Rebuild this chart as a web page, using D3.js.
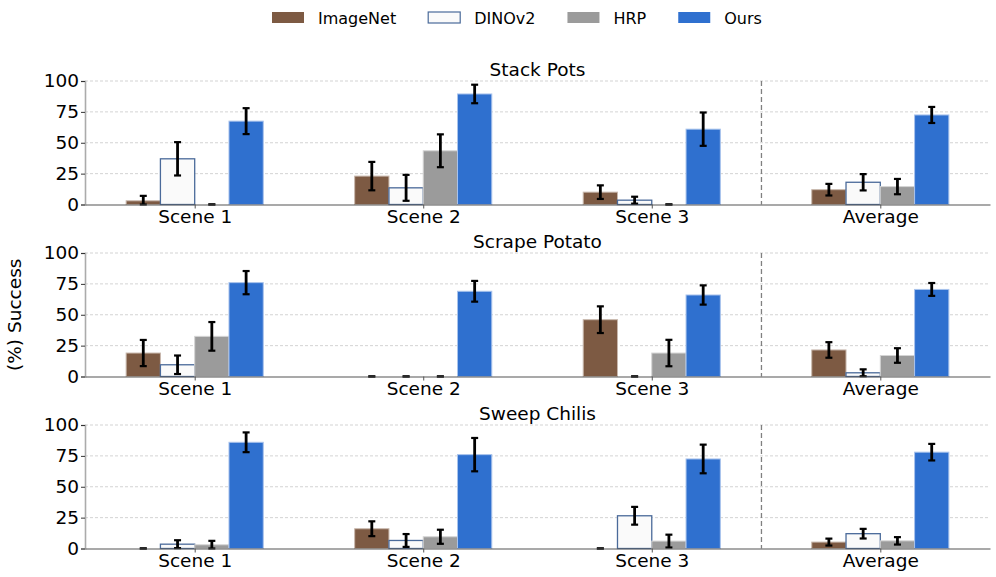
<!DOCTYPE html>
<html lang="en">
<head>
  <meta charset="UTF-8">
  <title>Success per scene</title>
  <script src="https://d3js.org/d3.v7.min.js"></script>
  <style>
    body { margin: 0; background: #fff; }
    text { font-family: "DejaVu Sans", sans-serif; fill: #000; }
  </style>
</head>
<body>
  <div id="viz"></div>

  <script>
    const methods = ['ImageNet', 'DINOv2', 'HRP', 'Ours'];
    const scenes = ['Scene 1', 'Scene 2', 'Scene 3', 'Average'];
    const tasks = ['Stack Pots', 'Scrape Potato', 'Sweep Chilis'];
    const yTicks = [0, 25, 50, 75, 100];

    // rows = methods, columns = scenes
    const stackPotsMean = [[3, 23, 10, 12], [37, 13.5, 3.5, 18], [0, 43.5, 0, 14.5], [67.5, 89.5, 61, 72.5]];
    const stackPotsErr = [[4, 11.5, 5.5, 4.7], [13.5, 10.5, 2.8, 6.6], [0, 13.3, 0, 6.2], [10.5, 7.5, 13.5, 6.5]];
    const scrapePotatoMean = [[19, 0, 46, 21.5], [9.5, 0, 0, 3], [32.5, 0, 19, 17], [76, 69, 66, 70.5]];
    const scrapePotatoErr = [[10.6, 0, 10.8, 6.3], [7.5, 0, 0, 2.8], [11.6, 0, 10.7, 5.9], [9.4, 8.4, 7.8, 5.2]];
    const sweepChilisMean = [[0, 16, 0, 5.2], [3.5, 6.5, 26.5, 12], [3, 9.5, 6, 6.2], [86, 76, 72.5, 78]];
    const sweepChilisErr = [[0, 6, 0, 2.8], [3.2, 5.2, 7.2, 3.9], [3.2, 5.7, 5.2, 3], [8, 13.5, 11.6, 6.7]];

    const means = [stackPotsMean, scrapePotatoMean, sweepChilisMean];
    const errs = [stackPotsErr, scrapePotatoErr, sweepChilisErr];

    const fills = ['#7d5a43', '#fafafa', '#9b9b9b', '#2f70cf'];
    const strokes = ['#c8b8ad', '#4a6a9a', '#d4d4d4', '#a9c3ec'];

    const width = 996, height = 577;
    const left = 85, right = 990;
    const panelH = 123.5, panelTop = 81, panelStep = 172;
    const barW = 0.15;
    const fs = '18.5px';

    const svg = d3.select('#viz')
      .append('svg')
        .attr('width', width)
        .attr('height', height);

    // category index -> pixel, bars span -0.3..3.3 plus matplotlib-like margin
    const x = d3.scaleLinear().domain([-0.48, 3.48]).range([left, right]);

    tasks.forEach((task, t) => {
      const top = panelTop + t * panelStep;
      const y = d3.scaleLinear().domain([0, 100]).range([top + panelH, top]);
      const g = svg.append('g');

      // grid
      g.selectAll('line.grid')
        .data(yTicks.filter(d => d > 0))
        .enter()
        .append('line')
          .attr('x1', left).attr('x2', right)
          .attr('y1', d => y(d)).attr('y2', d => y(d))
          .style('stroke', '#c8c8c8')
          .style('stroke-width', 0.8)
          .style('stroke-dasharray', '3,2');

      // separator before Average
      g.append('line')
        .attr('x1', x(2.48)).attr('x2', x(2.48))
        .attr('y1', y(100)).attr('y2', y(0))
        .style('stroke', '#808080')
        .style('stroke-width', 1.3)
        .style('stroke-dasharray', '5,3');

      // bars
      methods.forEach((m, i) => {
        const off = (i - 1.5) * barW;
        g.selectAll('rect.m' + i)
          .data(scenes.map((s, j) => ({ j: j, v: means[t][i][j], e: errs[t][i][j] })))
          .enter()
          .append('rect')
            .attr('x', d => x(d.j + off - barW / 2))
            .attr('width', x(barW) - x(0))
            .attr('y', d => y(d.v))
            .attr('height', d => y(0) - y(d.v))
            .style('fill', fills[i])
            .style('stroke', d => d.v > 0 ? strokes[i] : 'none')
            .style('stroke-width', i === 1 ? 1.3 : 1);
      });

      // error bars
      methods.forEach((m, i) => {
        const off = (i - 1.5) * barW;
        const data = scenes.map((s, j) => ({ j: j, v: means[t][i][j], e: errs[t][i][j] }));
        const eg = g.append('g').style('stroke', '#000');
        eg.selectAll('line.v')
          .data(data)
          .enter()
          .append('line')
            .attr('x1', d => x(d.j + off)).attr('x2', d => x(d.j + off))
            .attr('y1', d => y(Math.max(0, d.v - d.e))).attr('y2', d => y(d.v + d.e))
            .style('stroke-width', 2.8);
        ['lo', 'hi'].forEach(k => {
          eg.selectAll('line.' + k)
            .data(data)
            .enter()
            .append('line')
              .attr('x1', d => x(d.j + off) - 3.5).attr('x2', d => x(d.j + off) + 3.5)
              .attr('y1', d => y(k === 'lo' ? Math.max(0, d.v - d.e) : d.v + d.e))
              .attr('y2', d => y(k === 'lo' ? Math.max(0, d.v - d.e) : d.v + d.e))
              .style('stroke-width', 2.2);
        });
      });

      // y axis
      const yAxis = g.append('g')
        .attr('transform', `translate(${left},0)`)
        .call(d3.axisLeft(y).tickValues(yTicks).tickSize(4).tickPadding(2));
      yAxis.select('.domain').style('stroke', '#ababab').style('stroke-width', 1.6);
      yAxis.selectAll('.tick line').style('stroke', '#333');
      yAxis.selectAll('.tick text')
        .style('font-size', fs)
        .style('font-family', '"DejaVu Sans", sans-serif');

      // x axis
      const xAxis = g.append('g')
        .attr('transform', `translate(0,${y(0)})`)
        .call(d3.axisBottom(x).tickValues([0, 1, 2, 3]).tickFormat(i => scenes[i]).tickSize(4).tickPadding(1).tickSizeOuter(0));
      xAxis.select('.domain').style('stroke', '#555').style('stroke-width', 1.2);
      xAxis.selectAll('.tick line').style('stroke', '#555');
      xAxis.selectAll('.tick text')
        .style('font-size', fs)
        .style('font-family', '"DejaVu Sans", sans-serif');

      // title
      g.append('text')
        .attr('x', (left + right) / 2)
        .attr('y', top - 5)
        .attr('text-anchor', 'middle')
        .style('font-size', fs)
        .text(task);
    });

    // y label
    svg.append('text')
      .attr('transform', `translate(21,${panelTop + (2 * panelStep + panelH) / 2}) rotate(-90)`)
      .attr('text-anchor', 'middle')
      .style('font-size', fs)
      .text('(%) Success');

    // legend
    let lx = 272;
    methods.forEach((m, i) => {
      svg.append('rect')
        .attr('x', lx).attr('y', 12)
        .attr('width', 32).attr('height', 11)
        .style('fill', fills[i])
        .style('stroke', i === 1 ? strokes[i] : 'none')
        .style('stroke-width', 1.2);
      const txt = svg.append('text')
        .attr('x', lx + 46).attr('y', 23.5)
        .style('font-size', '16px')
        .text(m);
      lx += 46 + txt.node().getComputedTextLength() + 32;
    });
  </script>
</body>
</html>
